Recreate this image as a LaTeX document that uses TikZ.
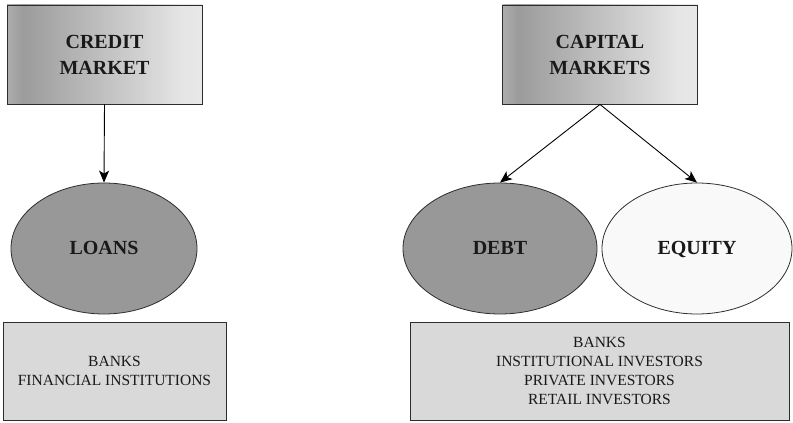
\documentclass[tikz,border=0pt]{standalone}
\usepackage{fontspec}
\setmainfont{Liberation Serif}
\usetikzlibrary{shapes.geometric}
\usetikzlibrary{arrows,arrows.meta}
\definecolor{rahmen}{RGB}{45,45,45}
\definecolor{dunkel}{RGB}{152,152,152}
\definecolor{hell}{RGB}{217,217,217}
\definecolor{weiss}{RGB}{249,249,249}
\pgfdeclarehorizontalshading{verlauf}{100bp}{color(0bp)=(black!32); color(25bp)=(black!32); color(29bp)=(black!39); color(62bp)=(black!16); color(70bp)=(black!10); color(75bp)=(black!9); color(100bp)=(black!9)}
\tikzset{
    market/.style={draw=rahmen, line width=0.9pt, shading=verlauf, minimum width=195pt, minimum height=99pt, inner sep=0pt, align=center, font=\fontsize{20}{26}\selectfont\bfseries},
    kind/.style={ellipse, draw=rahmen, line width=0.8pt, inner sep=0pt, minimum height=131pt, text height=13pt, text depth=0pt, font=\fontsize{20}{24}\selectfont\bfseries},
    players/.style={draw=rahmen, line width=0.9pt, fill=hell, inner sep=0pt, minimum height=98pt, align=center, font=\fontsize{15.5}{19.3}\selectfont},
    pfeil/.style={line width=0.9pt, -{Stealth[length=12pt,width=10pt,inset=3pt]}}
}

\begin{document}
\begin{tikzpicture}[x=1pt, y=1pt, text=black!90]

    \useasboundingbox (0,0) rectangle (793,423);

    % credit side
    \node[market] (credit) at (104.5,368.5) {CREDIT\\MARKET};
    \node[kind, fill=dunkel, minimum width=186pt] (loans) at (104,174.5) {LOANS};
    \node[players, minimum width=223pt] (lenders) at (114.5,52) {BANKS\\FINANCIAL INSTITUTIONS};
    \draw[pfeil] (credit.south) -- (loans.north);

    % capital side
    \node[market] (capital) at (600,368.5) {CAPITAL\\MARKETS};
    \node[kind, fill=dunkel, minimum width=194pt] (debt) at (500,174.5) {DEBT};
    \node[kind, fill=weiss, minimum width=190pt] (equity) at (697,174.5) {EQUITY};
    \node[players, minimum width=379pt] (investors) at (599.5,52) {BANKS\\INSTITUTIONAL INVESTORS\\PRIVATE INVESTORS\\RETAIL INVESTORS};
    \draw[pfeil] (capital.south) -- (debt.north);
    \draw[pfeil] (capital.south) -- (equity.north);

\end{tikzpicture}
\end{document}
